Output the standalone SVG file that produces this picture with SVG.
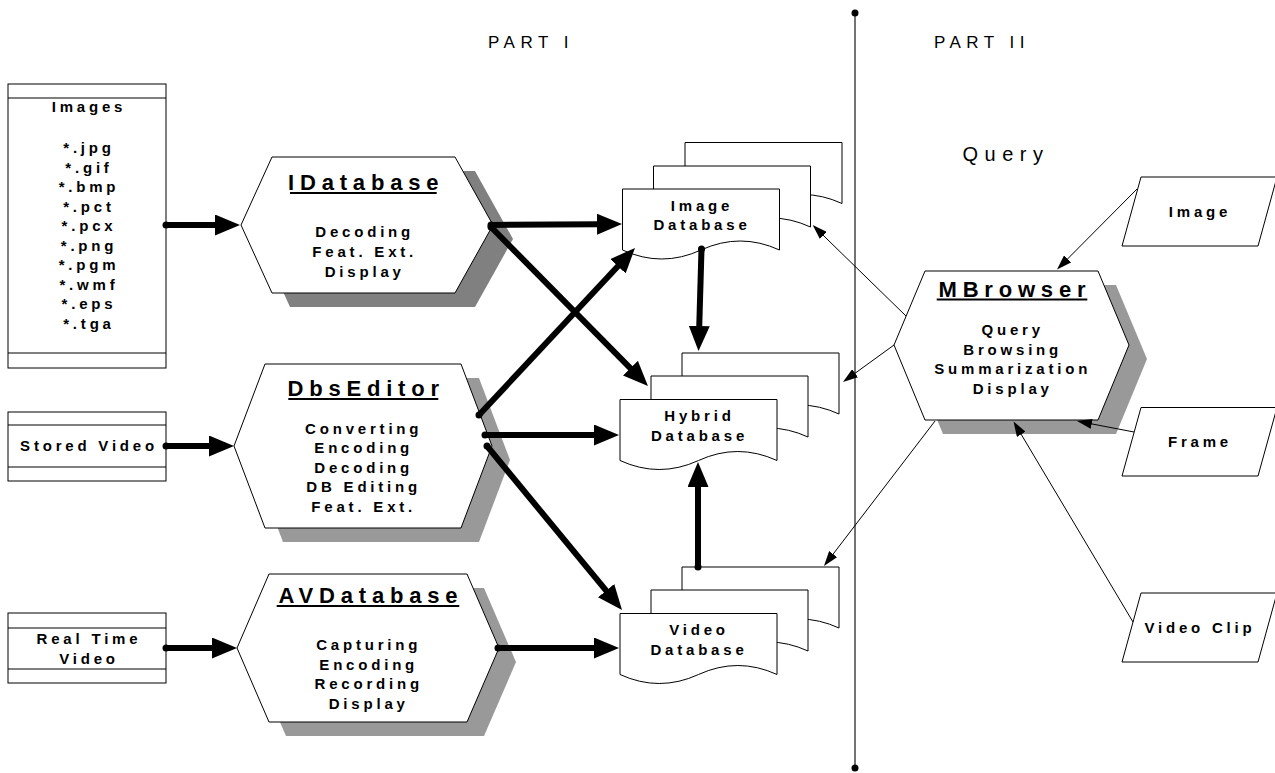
<svg xmlns="http://www.w3.org/2000/svg" width="1275" height="773" viewBox="0 0 1275 773">
<style>
.t{font-family:"Liberation Sans",Arial,sans-serif;font-weight:bold;font-size:15px;letter-spacing:3.8px;text-anchor:middle;fill:#000}
.ttl{font-size:22px;letter-spacing:5.8px}
.lbl{font-family:"Liberation Sans",Arial,sans-serif;font-size:17px;letter-spacing:5.5px;text-anchor:middle;fill:#000}
.q{font-size:20px;letter-spacing:6.5px}
.box{fill:#fff;stroke:#000;stroke-width:1}
.sh{fill:#999;stroke:none}
.sh2{fill:#808080;stroke:none}
.ul{stroke:#000;stroke-width:1.8}
.thick{stroke:#000;stroke-width:6;fill:none;marker-end:url(#ah);marker-start:url(#dot)}
.thin{stroke:#000;stroke-width:1;fill:none;marker-end:url(#ahs)}
</style>
<defs>
<marker id="ah" markerUnits="userSpaceOnUse" viewBox="0 0 25 21" markerWidth="25" markerHeight="21" refX="2" refY="10.5" orient="auto"><path d="M0,0 L25,10.5 L0,21 z" fill="#000"/></marker>
<marker id="ahs" markerUnits="userSpaceOnUse" viewBox="0 0 15 10" markerWidth="15" markerHeight="10" refX="1" refY="5" orient="auto"><path d="M0,0 L15,5 L0,10 z" fill="#000"/></marker>
<marker id="dot" markerUnits="userSpaceOnUse" viewBox="0 0 8 8" markerWidth="8" markerHeight="8" refX="4" refY="4"><circle cx="4" cy="4" r="3.5" fill="#000"/></marker>
</defs>
<rect width="1275" height="773" fill="#fff"/>

<g id="separator">
<line x1="855" y1="13" x2="855" y2="768" stroke="#444" stroke-width="1.5"/>
<circle cx="855" cy="13" r="3.5" fill="#000"/>
<circle cx="855" cy="768" r="3.5" fill="#000"/>
<text class="lbl" x="531" y="48">PART I</text>
<text class="lbl" x="982" y="48">PART II</text>
<text class="lbl q" x="1006" y="161">Query</text>
</g>

<g id="images">
<rect class="box" x="8" y="84" width="158" height="284"/>
<line x1="8" y1="98" x2="166" y2="98" stroke="#000"/>
<line x1="8" y1="353" x2="166" y2="353" stroke="#000"/>
<text class="t" x="89" y="112">Images</text>
<text class="t" x="89" y="153">*.jpg</text>
<text class="t" x="89" y="172.5">*.gif</text>
<text class="t" x="89" y="192">*.bmp</text>
<text class="t" x="89" y="211.5">*.pct</text>
<text class="t" x="89" y="231">*.pcx</text>
<text class="t" x="89" y="250.5">*.png</text>
<text class="t" x="89" y="270">*.pgm</text>
<text class="t" x="89" y="289.5">*.wmf</text>
<text class="t" x="89" y="309">*.eps</text>
<text class="t" x="89" y="328.5">*.tga</text>
</g>

<g id="stored-video">
<rect class="box" x="8" y="412" width="158" height="69"/>
<line x1="8" y1="425" x2="166" y2="425" stroke="#000"/>
<line x1="8" y1="467" x2="166" y2="467" stroke="#000"/>
<text class="t" x="89" y="451">Stored Video</text>
</g>

<g id="realtime-video">
<rect class="box" x="8" y="613" width="158" height="70"/>
<line x1="8" y1="628" x2="166" y2="628" stroke="#000"/>
<line x1="8" y1="669" x2="166" y2="669" stroke="#000"/>
<text class="t" x="89" y="643.5">Real Time</text>
<text class="t" x="89" y="663.5">Video</text>
</g>

<g id="idatabase">
<polygon class="sh2" points="259,239 290,171 475,171 513,239 475,307 290,307"/>
<polygon class="box" points="241,225 272,157 455,157 493,225 455,293 272,293"/>
<text class="t ttl" x="366.2" y="190">IDatabase</text>
<line class="ul" x1="290" y1="193" x2="436.7" y2="193"/>
<text class="t" x="364.7" y="236.5">Decoding</text>
<text class="t" x="364.7" y="256.5">Feat. Ext.</text>
<text class="t" x="364.7" y="276.5">Display</text>
</g>

<g id="dbseditor">
<polygon class="sh" points="252,460 283,378 479,378 510,460 479,542 283,542"/>
<polygon class="box" points="234,446 265,364 461,364 492,446 461,528 265,528"/>
<text class="t ttl" x="366.2" y="396">DbsEditor</text>
<line class="ul" x1="288.3" y1="399" x2="438.3" y2="399"/>
<text class="t" x="363.7" y="433.5">Converting</text>
<text class="t" x="363.7" y="453">Encoding</text>
<text class="t" x="363.7" y="472.5">Decoding</text>
<text class="t" x="363.7" y="492">DB Editing</text>
<text class="t" x="363.7" y="511.5">Feat. Ext.</text>
</g>

<g id="avdatabase">
<polygon class="sh" points="254,662 286,588 484,588 516,662 484,736 286,736"/>
<polygon class="box" points="237,648 269,574 467,574 499,648 467,722 269,722"/>
<text class="t ttl" x="370.9" y="603.3">AVDatabase</text>
<line class="ul" x1="276.7" y1="606" x2="459.3" y2="606"/>
<text class="t" x="368.7" y="650">Capturing</text>
<text class="t" x="368.7" y="669.7">Encoding</text>
<text class="t" x="368.7" y="689.4">Recording</text>
<text class="t" x="368.7" y="709">Display</text>
</g>

<g id="image-db">
<path class="box" d="M685,142.5 H842 V203.5 Q802.75,185.5 763.5,203.5 T685,203.5 Z"/>
<path class="box" d="M653.5,166 H810.5 V227 Q771.25,209 732,227 T653.5,227 Z"/>
<path class="box" d="M622.5,189 H779.5 V250 Q740.25,232 701,250 T622.5,250 Z"/>
<text class="t" x="702" y="210.7">Image</text>
<text class="t" x="702" y="230">Database</text>
</g>

<g id="hybrid-db">
<path class="box" d="M682,353 H839 V414 Q799.75,396 760.5,414 T682,414 Z"/>
<path class="box" d="M651,376 H808 V437 Q768.75,419 729.5,437 T651,437 Z"/>
<path class="box" d="M620,399.5 H777 V460.5 Q737.75,442.5 698.5,460.5 T620,460.5 Z"/>
<text class="t" x="699.5" y="421">Hybrid</text>
<text class="t" x="699.5" y="440.7">Database</text>
</g>

<g id="video-db">
<path class="box" d="M682,567 H839 V628 Q799.75,610 760.5,628 T682,628 Z"/>
<path class="box" d="M651,590 H808 V651 Q768.75,633 729.5,651 T651,651 Z"/>
<path class="box" d="M620,613.5 H777 V674.5 Q737.75,656.5 698.5,674.5 T620,674.5 Z"/>
<text class="t" x="699" y="635">Video</text>
<text class="t" x="699" y="655">Database</text>
</g>

<g id="mbrowser">
<polygon class="sh" points="912,359 943,285 1116,285 1147,359 1116,434 943,434"/>
<polygon class="box" points="894,345 925,271 1098,271 1129,345 1098,420 925,420"/>
<text class="t ttl" x="1014.9" y="296.7">MBrowser</text>
<line class="ul" x1="936.7" y1="299.5" x2="1087.3" y2="299.5"/>
<text class="t" x="1012.7" y="335">Query</text>
<text class="t" x="1012.7" y="354.5">Browsing</text>
<text class="t" x="1012.7" y="374">Summarization</text>
<text class="t" x="1012.7" y="393.5">Display</text>
</g>

<g id="q-image">
<polygon class="box" points="1141,177 1277,177 1258,246 1122,246"/>
<text class="t" x="1200" y="217.3">Image</text>
</g>
<g id="q-frame">
<polygon class="box" points="1141,407.5 1277,407.5 1258,476 1122,476"/>
<text class="t" x="1200" y="447.3">Frame</text>
</g>
<g id="q-videoclip">
<polygon class="box" points="1141,593 1277,593 1258,662 1122,662"/>
<text class="t" x="1200" y="632.7">Video Clip</text>
</g>

<g id="connectors">
<line class="thick" x1="166" y1="225" x2="217" y2="225"/>
<line class="thick" x1="166" y1="446" x2="211" y2="446"/>
<line class="thick" x1="166" y1="648" x2="214" y2="648"/>
<line class="thick" x1="491" y1="225" x2="599" y2="224.2"/>
<line class="thick" x1="491" y1="227" x2="631.8" y2="369.6"/>
<line class="thick" x1="479" y1="415" x2="619.3" y2="264.8"/>
<line class="thick" x1="485" y1="435" x2="596" y2="435"/>
<line class="thick" x1="487" y1="446" x2="607.4" y2="592.2"/>
<line class="thick" x1="498" y1="648" x2="596" y2="648"/>
<line class="thick" x1="701.5" y1="249" x2="699.2" y2="328"/>
<line class="thick" x1="698" y1="567" x2="698" y2="485"/>
<line class="thin" x1="1137" y1="189" x2="1066.9" y2="259.6"/>
<line class="thin" x1="1134" y1="432" x2="1090.7" y2="423.7"/>
<line class="thin" x1="1133" y1="622" x2="1020.7" y2="433.5"/>
<line class="thin" x1="906" y1="316" x2="822.7" y2="234.8"/>
<line class="thin" x1="894" y1="345" x2="854.3" y2="373.8"/>
<line class="thin" x1="935" y1="421" x2="832.5" y2="554.9"/>
</g>
</svg>
